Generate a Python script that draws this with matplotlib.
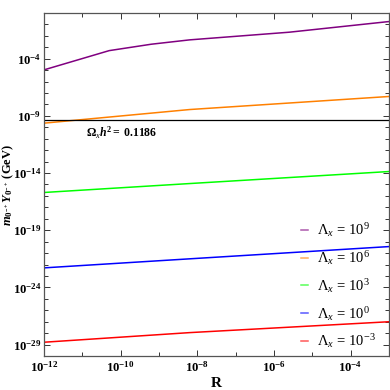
import numpy as np
import matplotlib
matplotlib.use("Agg")
import matplotlib.pyplot as plt
from matplotlib.ticker import FixedLocator, NullFormatter

plt.rcParams['font.family'] = ['Liberation Serif', 'DejaVu Serif']
plt.rcParams['mathtext.fontset'] = 'custom'
plt.rcParams['mathtext.rm'] = 'Liberation Serif'
plt.rcParams['mathtext.it'] = 'Liberation Serif:italic'
plt.rcParams['mathtext.bf'] = 'Liberation Serif:bold'
plt.rcParams['mathtext.bfit'] = 'Liberation Serif:italic:bold'

# ---- data (log10 values) ----
R_purple = [-12.0, -10.3, -9.2, -8.2, -5.6, -3.0]
Y_purple = [-4.98, -3.30, -2.74, -2.36, -1.69, -0.76]

R_common = [-12.0, -8.2, -3.0]
Y_orange = [-9.64, -8.45, -7.31]
Y_green = [-15.70, -14.92, -13.87]
Y_blue = [-22.29, -21.50, -20.43]
Y_red = [-28.79, -27.95, -27.00]

series_labels = [r'$\Lambda_x\,=\,10^{9}$', r'$\Lambda_x\,=\,10^{6}$', r'$\Lambda_x\,=\,10^{3}$',
                 r'$\Lambda_x\,=\,10^{0}$', r'$\Lambda_x\,=\,10^{-3}$']
series_colors = ['#800080', '#ff8000', '#00ff00', '#0000ff', '#ff0000']

relic_value = 4.4e-10
relic_label = r'$\mathbf{\Omega_{\mathit{x}}\mathbfit{h}^{2}}$$\mathbf{=\ 0.1186}$'

xtick_pos = [1e-12, 1e-10, 1e-8, 1e-6, 1e-4]
xtick_labels = [r'$\mathbf{10^{-12}}$', r'$\mathbf{10^{-10}}$', r'$\mathbf{10^{-8}}$',
                r'$\mathbf{10^{-6}}$', r'$\mathbf{10^{-4}}$']
ytick_pos = [1e-29, 1e-24, 1e-19, 1e-14, 1e-9, 1e-4]
ytick_labels = [r'$\mathbf{10^{-29}}$', r'$\mathbf{10^{-24}}$', r'$\mathbf{10^{-19}}$',
                r'$\mathbf{10^{-14}}$', r'$\mathbf{10^{-9}}$', r'$\mathbf{10^{-4}}$']

fig = plt.figure(figsize=(3.9, 3.9), dpi=100)
ax = fig.add_axes([0.113, 0.087, 0.884, 0.880])

xs_list = [R_purple, R_common, R_common, R_common, R_common]
ys_list = [Y_purple, Y_orange, Y_green, Y_blue, Y_red]
for xs, ys, c, lab in zip(xs_list, ys_list, series_colors, series_labels):
    ax.plot(10.0 ** np.array(xs), 10.0 ** np.array(ys), color=c, lw=1.1, label=lab)

ax.axhline(relic_value, color='black', lw=0.9)
ax.text(10 ** -10.9, 10 ** -10.5, relic_label, fontsize=8.5, va='center', ha='left')

ax.set_xscale('log')
ax.set_yscale('log')
ax.set_xlim(1e-12, 1e-3)
ax.set_ylim(1e-30, 1e0)

ax.xaxis.set_major_locator(FixedLocator(xtick_pos))
ax.xaxis.set_ticklabels(xtick_labels)
ax.xaxis.set_minor_locator(FixedLocator([10.0 ** k for k in range(-12, -2)]))
ax.xaxis.set_minor_formatter(NullFormatter())
ax.yaxis.set_major_locator(FixedLocator(ytick_pos))
ax.yaxis.set_ticklabels(ytick_labels)
ax.yaxis.set_minor_locator(FixedLocator([10.0 ** k for k in range(-30, 1)]))
ax.yaxis.set_minor_formatter(NullFormatter())

frame_color = '#555555'
for s in ax.spines.values():
    s.set_color(frame_color)
    s.set_linewidth(0.9)
ax.tick_params(which='both', direction='in', top=True, right=True, color='#333333',
               labelsize=9.2, pad=3)
ax.tick_params(axis='y', pad=2)
ax.tick_params(which='major', length=4, width=0.7)
ax.tick_params(which='minor', length=3, width=0.7)

ax.set_xlabel(r'$\mathbf{R}$', fontsize=11, labelpad=1)
ax.set_ylabel(r'$\mathbfit{m}_{\mathbf{0^{-+}}}\mathbfit{Y}_{\mathbf{0^{-+}}}$$\mathbf{\ (GeV)}$',
              fontsize=9)
ax.yaxis.set_label_coords(-0.082, 0.5)

leg = ax.legend(loc='lower right', bbox_to_anchor=(1.0, -0.022), frameon=False,
                fontsize=10.5, handlelength=0.5, handletextpad=0.6, labelspacing=0.68)
for h in leg.legend_handles:
    h.set_alpha(0.65)

fig.savefig('out.png', dpi=100)
